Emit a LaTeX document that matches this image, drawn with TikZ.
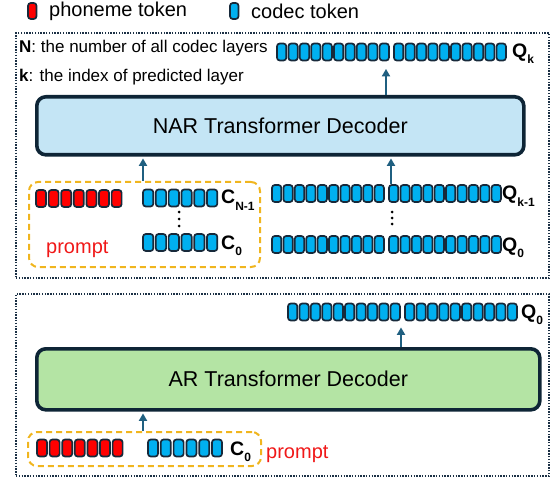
\documentclass[tikz,border=0pt]{standalone}
\usepackage{fontspec}
\setmainfont{Liberation Sans}
\usetikzlibrary{arrows.meta}

\definecolor{tokblue}{HTML}{00B0F0}
\definecolor{tokred}{HTML}{FF0000}
\definecolor{tokedge}{HTML}{17293A}
\definecolor{boxedge}{HTML}{0E2536}
\definecolor{narfill}{HTML}{C4E5F5}
\definecolor{arfill}{HTML}{B4E4A4}
\definecolor{arrowc}{HTML}{1F5F80}
\definecolor{promptc}{HTML}{F0B51E}
\definecolor{framec}{HTML}{1B3045}
\definecolor{prompttext}{HTML}{F01818}

% a row of #3 tokens: left x, top y, count, pitch, width, fill
\newcommand\drawtokens[6]{%
  \foreach \i in {1,...,#3}{%
    \draw[tok,fill=#6] ({#1+(\i-1)*#4},#2) rectangle ++(#5,17);
  }}
% a codec-layer row: two groups of ten tokens
\newcommand\drawqrow[2]{%
  \drawtokens{#1}{#2}{10}{11.4}{9.3}{tokblue}%
  \drawtokens{#1+117}{#2}{10}{11.4}{9.3}{tokblue}}

\tikzset{
  tok/.style={draw=tokedge, line width=1.7pt, rounded corners=2.8pt},
  frame/.style={draw=framec, line width=1.9pt, dash pattern=on 1.4pt off 1.4pt,
    inner sep=0pt, anchor=north west},
  decoder/.style={draw=boxedge, line width=3.6pt, rounded corners=9pt,
    inner sep=0pt, anchor=north west, font=\fontsize{21.5}{24}\selectfont},
  promptbox/.style={draw=promptc, line width=2pt, dash pattern=on 6pt off 4pt,
    rounded corners=9pt, inner sep=0pt, anchor=north west},
  rowarea/.style={inner sep=0pt, minimum height=17pt, anchor=north west},
  lbl/.style={font=\fontsize{19.5}{20}\selectfont\bfseries, inner sep=0pt, anchor=base west},
  legend/.style={font=\fontsize{20}{22}\selectfont, inner sep=0pt, anchor=west},
  note/.style={font=\fontsize{17}{19}\selectfont, inner sep=0pt, anchor=west},
  ptext/.style={font=\fontsize{20}{22}\selectfont, text=prompttext, inner sep=0pt, anchor=base west},
  arr/.style={draw=arrowc, line width=2pt, -{Triangle[length=7.5pt,width=8pt]}},
  dot/.style={fill=black},
}
\newcommand\sub[1]{\raisebox{-6pt}{\fontsize{12}{12}\selectfont\bfseries #1}}

\begin{document}
\begin{tikzpicture}[x=1pt,y=-1pt]
\useasboundingbox (0,0) rectangle (553,478);

% legend
\draw[tok,fill=tokred] (28,3) rectangle ++(8.5,16);
\node[legend] (lgphon) at (49,11) {phoneme token};
\draw[tok,fill=tokblue] (230,3) rectangle ++(8.5,16);
\node[legend] (lgcodec) at (251,11) {codec token};

% ---------------- NAR stage ----------------
\node[frame, minimum width=533pt, minimum height=245pt] (narframe) at (15,32) {};
\node[note] (noteN) at (19,48) {\textbf{N}: the number of all codec layers};
\node[note] (notek) at (19,77) {\textbf{k}: the index of predicted layer};

% output layer Q_k
\node[rowarea, minimum width=229pt] (qk) at (277,43.5) {};
\drawqrow{277}{43.5}
\node[lbl] (qklbl) at (512,58) {Q\sub{k}};

\node[decoder, fill=narfill, minimum width=487pt, minimum height=58pt] (nar) at (35,95)
  {NAR Transformer Decoder};

% prompt (phonemes + all codec layers)
\node[promptbox, minimum width=231pt, minimum height=85pt] (ptop) at (28,181) {};
\drawtokens{36}{190}{7}{12.6}{10}{tokred}
\node[rowarea, minimum width=74pt] (cn1) at (143,189.5) {};
\drawtokens{143}{189.5}{6}{12.8}{10.3}{tokblue}
\node[lbl] (cn1lbl) at (221,204) {C\sub{N-1}};
\foreach \yy in {212,219,226} \fill[dot] (179,\yy) circle (1.5pt);
\node[rowarea, minimum width=74pt] (c0) at (143,234) {};
\drawtokens{143}{234}{6}{12.8}{10.3}{tokblue}
\node[lbl] (c0lbl) at (221,249) {C\sub{0}};
\node[ptext] (ptoptxt) at (46,253) {prompt};

% already predicted layers Q_0 .. Q_{k-1}
\node[rowarea, minimum width=229pt] (qkm1) at (272,185) {};
\drawqrow{272}{185}
\node[lbl] (qkm1lbl) at (502,200) {Q\sub{k-1}};
\foreach \yy in {212,218,224} \fill[dot] (392,\yy) circle (1.5pt);
\node[rowarea, minimum width=229pt] (q0t) at (272,236) {};
\drawqrow{272}{236}
\node[lbl] (q0tlbl) at (502,251) {Q\sub{0}};

\coordinate (xa) at (386,0);
\coordinate (xb) at (143,0);
\coordinate (xc) at (391,0);
\draw[arr, shorten >=8pt] (nar.north -| xa) -- (qk.south -| xa);
\draw[arr, shorten >=1.8pt] (ptop.north -| xb) -- (nar.south -| xb);
\draw[arr, shorten <=1pt, shorten >=1.8pt] (qkm1.north -| xc) -- (nar.south -| xc);

% ---------------- AR stage ----------------
\node[frame, minimum width=533pt, minimum height=182pt] (arframe) at (15,293) {};

\node[rowarea, minimum width=229pt] (q0b) at (288,303.5) {};
\drawqrow{288}{303.5}
\node[lbl] (q0blbl) at (521,318) {Q\sub{0}};

\node[decoder, fill=arfill, minimum width=503pt, minimum height=61pt] (ar) at (35,347)
  {AR Transformer Decoder};

\node[promptbox, minimum width=233pt, minimum height=34pt] (pbot) at (27,431) {};
\drawtokens{37}{439.5}{7}{12.6}{10}{tokred}
\drawtokens{148}{439.5}{6}{12.8}{10}{tokblue}
\node[lbl] (c0blbl) at (230,455) {C\sub{0}};
\node[ptext] (pbottxt) at (266,458) {prompt};

\coordinate (xd) at (401,0);
\draw[arr, shorten >=6.5pt] (ar.north -| xd) -- (q0b.south -| xd);
\draw[arr, shorten >=1.8pt] (pbot.north -| xb) -- (ar.south -| xb);
\end{tikzpicture}
\end{document}
